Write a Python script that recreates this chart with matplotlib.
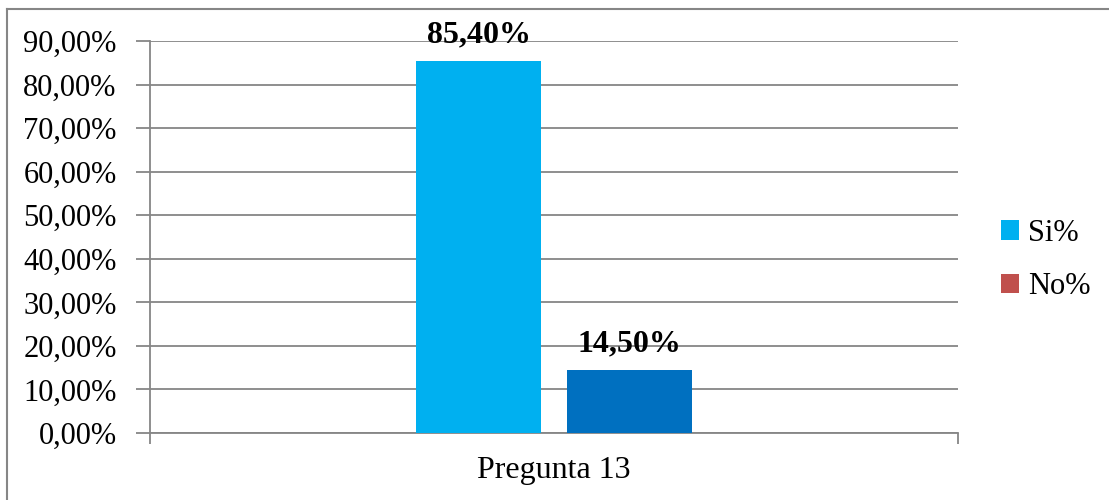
import numpy as np
import matplotlib.pyplot as plt
from matplotlib.patches import Patch
from matplotlib.lines import Line2D

plt.rcParams['font.family'] = ['Liberation Serif', 'DejaVu Serif']

category = "Pregunta 13"
series = ["Si%", "No%"]
values = [85.4, 14.5]
bar_colors = ["#00B0F0", "#0070C0"]
legend_colors = ["#00B0F0", "#C0504D"]
yticks = np.arange(0, 91, 10)

fig = plt.figure(figsize=(11.09, 5), dpi=100)
ax = fig.add_axes([150/1109, 67/500, 808/1109, 392/500])

offsets = [-0.093, 0.093]
w = 0.155
for off, v, c in zip(offsets, values, bar_colors):
    ax.bar(off, v, width=w, color=c, zorder=3)
    ax.text(off, v + 2.6, ("%.2f%%" % v).replace(".", ","), ha='center', va='bottom',
            fontsize=23, fontweight='bold', zorder=4)

ax.set_xlim(-0.5, 0.5)
ax.set_ylim(0, 90)
ax.set_yticks(yticks)
ax.set_yticklabels([("%.2f%%" % t).replace(".", ",") for t in yticks], fontsize=22)
ax.yaxis.grid(True, color='#868686', linewidth=1.3, zorder=0)
ax.tick_params(axis='y', length=10, color='#868686', width=1.3, pad=14)
ax.set_xticks([-0.5, 0.5])
ax.set_xticklabels([])
ax.tick_params(axis='x', length=8, color='#868686', width=1.3)
ax.text(0, -8.6, category, ha='center', va='center', fontsize=23, transform=ax.transData)
for s in ['top', 'right']:
    ax.spines[s].set_visible(False)
for s in ['left', 'bottom']:
    ax.spines[s].set_color('#868686')
    ax.spines[s].set_linewidth(1.3)

handles = [Patch(facecolor=c, edgecolor='none') for c in legend_colors]
fig.legend(handles, series, loc='center left', bbox_to_anchor=(973/1109, 0.48), frameon=False,
           fontsize=22, handlelength=0.6, handleheight=0.6, handletextpad=0.3, labelspacing=0.8)

# outer chart frame (top and left edges visible)
fig.add_artist(Line2D([7/1109, 7/1109], [0, 1 - 9/500], color='#868686', linewidth=1.5))
fig.add_artist(Line2D([7/1109, 1], [1 - 9/500, 1 - 9/500], color='#868686', linewidth=1.5))

fig.savefig("out.png", dpi=100)
